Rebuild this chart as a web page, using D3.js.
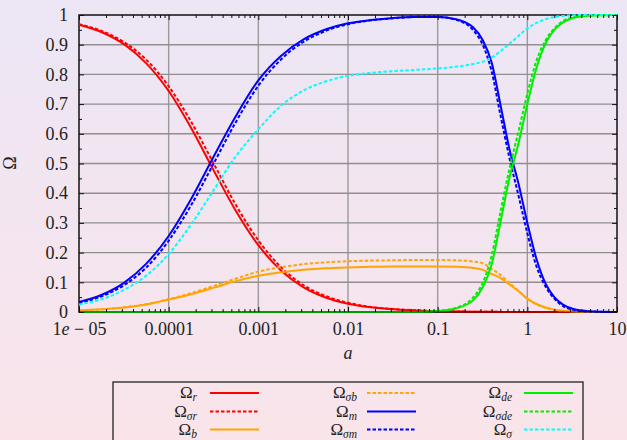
<!DOCTYPE html>
<html>
<head>
<meta charset="utf-8">
<script src="https://cdn.jsdelivr.net/npm/d3@7"></script>
<style>
body { margin: 0; }
svg { display: block; }
text { font-family: "Liberation Serif", "DejaVu Serif", serif; fill: #222; }
</style>
</head>
<body>
<svg id="chart" width="627" height="440"></svg>
<script>
// Scale factor a (sample points)
const aValues = [1e-5, 1.8e-5, 3.2e-5, 5.6e-5, 1e-4, 1.8e-4, 3.2e-4, 5.6e-4, 1e-3, 1.8e-3, 3.2e-3, 5.6e-3,
  1e-2, 1.8e-2, 3.2e-2, 5.6e-2, 0.1, 0.16, 0.25, 0.32, 0.4, 0.5, 0.63, 0.8, 1, 1.26, 1.6, 2, 2.5, 3.2, 4, 6.3, 10];

const omegaR = [0.967, 0.942, 0.901, 0.838, 0.744, 0.617, 0.475, 0.341, 0.225, 0.139, 0.083, 0.049,
  0.028, 0.016, 0.009, 0.005, 0.003, 0.002, 0.001, 0.001, 0.001, 0, 0, 0, 0, 0, 0, 0, 0, 0, 0, 0, 0];
const omegaSigmaR = [0.969, 0.946, 0.908, 0.850, 0.760, 0.638, 0.498, 0.361, 0.241, 0.150, 0.090, 0.054,
  0.031, 0.017, 0.010, 0.006, 0.003, 0.002, 0.001, 0.001, 0.001, 0, 0, 0, 0, 0, 0, 0, 0, 0, 0, 0, 0];
const omegaB = [0.005, 0.009, 0.015, 0.025, 0.042, 0.060, 0.082, 0.104, 0.122, 0.134, 0.142, 0.147,
  0.150, 0.152, 0.153, 0.153, 0.153, 0.152, 0.148, 0.142, 0.128, 0.115, 0.093, 0.070, 0.045, 0.027, 0.015, 0.008, 0.004, 0.002, 0.001, 0, 0];
const omegaSigmaB = [0.005, 0.009, 0.016, 0.026, 0.043, 0.064, 0.088, 0.112, 0.136, 0.151, 0.161, 0.167,
  0.171, 0.173, 0.174, 0.175, 0.175, 0.174, 0.170, 0.164, 0.145, 0.125, 0.098, 0.070, 0.044, 0.026, 0.014, 0.007, 0.004, 0.002, 0.001, 0, 0];
const omegaM = [0.034, 0.058, 0.099, 0.162, 0.256, 0.383, 0.525, 0.659, 0.780, 0.863, 0.918, 0.951,
  0.972, 0.983, 0.990, 0.993, 0.993, 0.986, 0.958, 0.914, 0.840, 0.700, 0.550, 0.430, 0.300, 0.180, 0.095, 0.050, 0.025, 0.011, 0.005, 0.001, 0];
const omegaSigmaM = [0.030, 0.053, 0.091, 0.149, 0.240, 0.362, 0.502, 0.639, 0.762, 0.851, 0.910, 0.946,
  0.969, 0.982, 0.989, 0.993, 0.993, 0.984, 0.948, 0.898, 0.810, 0.665, 0.520, 0.390, 0.265, 0.155, 0.085, 0.045, 0.020, 0.008, 0.003, 0.001, 0];
const omegaDe = [0, 0, 0, 0, 0, 0, 0, 0, 0, 0, 0, 0,
  0, 0, 0, 0, 0.003, 0.012, 0.040, 0.085, 0.160, 0.300, 0.450, 0.570, 0.700, 0.820, 0.905, 0.950, 0.975, 0.990, 0.995, 0.999, 1];
const omegaSigmaDe = [0, 0, 0, 0, 0, 0, 0, 0, 0, 0, 0, 0,
  0, 0, 0, 0, 0.004, 0.014, 0.050, 0.100, 0.190, 0.335, 0.480, 0.610, 0.735, 0.845, 0.915, 0.955, 0.980, 0.992, 0.997, 0.999, 1];
const omegaSigma = [0.025, 0.043, 0.075, 0.122, 0.195, 0.297, 0.412, 0.524, 0.615, 0.695, 0.746, 0.776,
  0.795, 0.805, 0.811, 0.815, 0.820, 0.826, 0.835, 0.843, 0.857, 0.878, 0.903, 0.930, 0.955, 0.973, 0.986, 0.993, 0.997, 0.999, 1, 1, 1];

// Axis ticks
const xTicks = [1e-5, 1e-4, 1e-3, 1e-2, 0.1, 1, 10];
const xTickLabels = ["1e − 05", "0.0001", "0.001", "0.01", "0.1", "1", "10"];
const yTicks = [0, 0.1, 0.2, 0.3, 0.4, 0.5, 0.6, 0.7, 0.8, 0.9, 1];
const yTickLabels = ["0", "0.1", "0.2", "0.3", "0.4", "0.5", "0.6", "0.7", "0.8", "0.9", "1"];

// Series: subscript, values, colour, dashed
const series = [
  {sub: "r", values: omegaR, color: "#ff0000", dashed: false},
  {sub: "σr", values: omegaSigmaR, color: "#ff0000", dashed: true},
  {sub: "b", values: omegaB, color: "#ffa500", dashed: false},
  {sub: "σb", values: omegaSigmaB, color: "#ffa500", dashed: true},
  {sub: "m", values: omegaM, color: "#0000ff", dashed: false},
  {sub: "σm", values: omegaSigmaM, color: "#0000ff", dashed: true},
  {sub: "de", values: omegaDe, color: "#00ee00", dashed: false},
  {sub: "σde", values: omegaSigmaDe, color: "#00ee00", dashed: true},
  {sub: "σ", values: omegaSigma, color: "#00ffff", dashed: true}
];

const W = 627, H = 440;
const margin = {top: 15, right: 10, bottom: 128, left: 79},
  width = W - margin.left - margin.right,
  height = H - margin.top - margin.bottom;

const svg = d3.select("#chart");

// background gradient
const grad = svg.append("defs").append("linearGradient")
  .attr("id", "bg").attr("x1", 0).attr("y1", 0).attr("x2", 0).attr("y2", 1);
grad.append("stop").attr("offset", "0%").attr("stop-color", "#ece6f5");
grad.append("stop").attr("offset", "100%").attr("stop-color", "#fae4ea");
svg.append("rect").attr("width", W).attr("height", H).attr("fill", "url(#bg)");

const g = svg.append("g").attr("transform", `translate(${margin.left},${margin.top})`);

const x = d3.scaleLog().domain([1e-5, 10]).range([0, width]);
const y = d3.scaleLinear().domain([0, 1]).range([height, 0]);

// grid
g.append("g").selectAll("line").data(xTicks.slice(1, -1)).join("line")
  .attr("x1", d => x(d)).attr("x2", d => x(d)).attr("y1", 0).attr("y2", height)
  .attr("stroke", "#9a9a9a").attr("stroke-width", 1.4);
g.append("g").selectAll("line").data(yTicks.slice(1, -1)).join("line")
  .attr("y1", d => y(d)).attr("y2", d => y(d)).attr("x1", 0).attr("x2", width)
  .attr("stroke", "#8f8f8f").attr("stroke-width", 1.4);

// frame
g.append("rect").attr("width", width).attr("height", height)
  .attr("fill", "none").attr("stroke", "#111").attr("stroke-width", 1.5);

// curves
const line = d3.line().curve(d3.curveMonotoneX);
series.forEach(s => {
  const pts = aValues.map((a, i) => [x(a), y(s.values[i])]);
  g.append("path")
    .attr("d", line(pts))
    .attr("fill", "none")
    .attr("stroke", s.color)
    .attr("stroke-width", 2)
    .attr("stroke-dasharray", s.dashed ? "3.5,2" : null);
});

// darken the bottom edge where the curves lie on it
g.append("line").attr("x1", 0).attr("x2", width).attr("y1", height).attr("y2", height)
  .attr("stroke", "#000").attr("stroke-opacity", 0.45).attr("stroke-width", 1.4);

// minor tick values
const xMinor = [];
for (let e = -5; e < 1; e++) for (let k = 2; k <= 9; k++) xMinor.push(k * Math.pow(10, e));
const yMinor = d3.range(0.05, 1, 0.1);

function styleAxis(sel) {
  sel.select(".domain").remove();
  sel.selectAll("line").attr("stroke", "#111");
  sel.attr("font-family", null).attr("font-size", null);
}

// bottom axis
g.append("g").attr("transform", `translate(0,${height})`)
  .call(d3.axisBottom(x).tickValues(xTicks).tickSize(-5).tickPadding(10)
    .tickFormat((d, i) => xTickLabels[i]))
  .call(styleAxis)
  .selectAll("text").style("font-size", "18px");
g.append("g").attr("transform", `translate(0,${height})`)
  .call(d3.axisBottom(x).tickValues(xMinor).tickSize(-3).tickFormat(""))
  .call(styleAxis);

// top axis
g.append("g").call(d3.axisTop(x).tickValues(xTicks).tickSize(-5).tickFormat("")).call(styleAxis);
g.append("g").call(d3.axisTop(x).tickValues(xMinor).tickSize(-3).tickFormat("")).call(styleAxis);

// left axis
g.append("g")
  .call(d3.axisLeft(y).tickValues(yTicks).tickSize(-5).tickPadding(11)
    .tickFormat((d, i) => yTickLabels[i]))
  .call(styleAxis)
  .selectAll("text").style("font-size", "18px");
g.append("g").call(d3.axisLeft(y).tickValues(yMinor).tickSize(-3).tickFormat("")).call(styleAxis);

// right axis
g.append("g").attr("transform", `translate(${width},0)`)
  .call(d3.axisRight(y).tickValues(yTicks).tickSize(-5).tickFormat("")).call(styleAxis);
g.append("g").attr("transform", `translate(${width},0)`)
  .call(d3.axisRight(y).tickValues(yMinor).tickSize(-3).tickFormat("")).call(styleAxis);

// the 1e-05 label uses an italic e
g.selectAll("g.tick text").filter(function() { return this.textContent === "1e − 05"; })
  .each(function() {
    const t = d3.select(this).text(null);
    t.append("tspan").text("1");
    t.append("tspan").attr("font-style", "italic").text("e");
    t.append("tspan").text(" − 05");
  });

// axis titles
svg.append("text").attr("transform", "translate(16,163) rotate(-90)")
  .attr("text-anchor", "middle").attr("font-size", 18).text("Ω");
svg.append("text").attr("x", margin.left + width / 2).attr("y", 359)
  .attr("text-anchor", "middle").attr("font-size", 18).attr("font-style", "italic").text("a");

// legend
svg.append("rect").attr("x", 113).attr("y", 382).attr("width", 470).attr("height", 80)
  .attr("fill", "none").attr("stroke", "#222").attr("stroke-width", 1.3);
const colText = [197, 357, 512], colLine = [210, 367, 524], rowY = [393, 411.5, 429.5];
series.forEach((s, i) => {
  const c = Math.floor(i / 3), r = i % 3;
  const t = svg.append("text").attr("x", colText[c]).attr("y", rowY[r] + 5)
    .attr("text-anchor", "end").attr("font-size", 17);
  t.append("tspan").text("Ω");
  t.append("tspan").attr("dy", 3).attr("font-size", 11.5).attr("font-style", "italic").text(s.sub);
  svg.append("line").attr("x1", colLine[c]).attr("x2", colLine[c] + 49)
    .attr("y1", rowY[r]).attr("y2", rowY[r])
    .attr("stroke", s.color).attr("stroke-width", 2)
    .attr("stroke-dasharray", s.dashed ? "3.5,2" : null);
});
</script>
</body>
</html>
